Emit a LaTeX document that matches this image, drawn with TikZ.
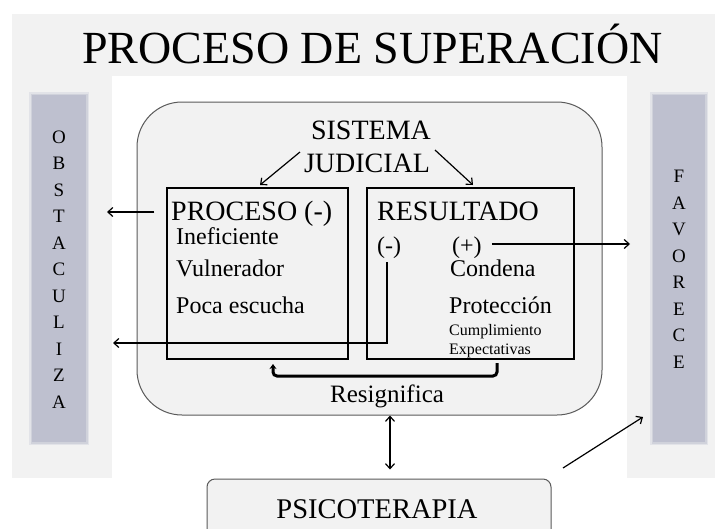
\documentclass[tikz,border=0pt]{standalone}
\usepackage{fontspec}
\setmainfont{Liberation Serif}
\usetikzlibrary{arrows.meta,calc}
\definecolor{bggray}{RGB}{242,242,242}
\definecolor{barc}{RGB}{190,192,207}
\definecolor{mainborder}{RGB}{90,90,90}
\tikzset{
  arr/.style={line width=1.2pt,-{Straight Barb[length=5pt,width=9pt]}},
  arrtwo/.style={line width=1.2pt,{Straight Barb[length=5pt,width=9pt]}-{Straight Barb[length=5pt,width=9pt]}},
  innerbox/.style={draw=black,line width=1.2pt,fill=bggray,inner sep=0pt},
  txt/.style={inner sep=0pt,anchor=base west},
  bartxt/.style={inner sep=0pt,align=center,font=\fontsize{19}{26.5}\selectfont},
}
\begin{document}
\begin{tikzpicture}[x=1pt,y=-1pt]
\clip (0,0) rectangle (715,528);
\useasboundingbox (0,0) rectangle (715,528);
% background frame
\fill[white] (0,0) rectangle (715,528);
\fill[bggray] (12,14) rectangle (715,478);
\fill[white] (112,76) rectangle (627,528);
% title
\node[inner sep=0pt,anchor=base,font=\fontsize{46}{50}\selectfont] (title) at (372.5,63) {PROCESO DE SUPERACIÓN};
% side bars
\foreach \xa/\xb [count=\i] in {32/86,653/705}{
  \fill[barc!30!bggray] (\xa-3,92) rectangle (\xb+3,445);
  \fill[barc!65!bggray] (\xa-1.5,93.5) rectangle (\xb+1.5,443.5);
  \fill[barc] (\xa,95) rectangle (\xb,442);
}
\node[bartxt] (obst) at (59,269.5) {O\\B\\S\\T\\A\\C\\U\\L\\I\\Z\\A};
\node[bartxt] (fav) at (679,269.5) {F\\A\\V\\O\\R\\E\\C\\E};
% main rounded box
\node[draw=mainborder,line width=1pt,fill=bggray,rounded corners=45pt,minimum width=465pt,minimum height=313pt,inner sep=0pt] (main) at (369.5,258.5) {};
% sistema judicial
\node[inner sep=0pt,anchor=base,font=\fontsize{28}{33}\selectfont] (sist) at (371,139) {SISTEMA};
\node[inner sep=0pt,anchor=base,font=\fontsize{28}{33}\selectfont] (jud) at (367,172) {JUDICIAL};
% inner boxes
\node[innerbox,minimum width=181pt,minimum height=171pt] (proc) at (257.5,273.5) {};
\node[innerbox,minimum width=207pt,minimum height=171pt] (res) at (470.5,273.5) {};
% texts in PROCESO
\node[txt,font=\fontsize{28}{30}\selectfont] (proct) at (171,220) {PROCESO (-)};
\node[txt,font=\fontsize{24}{26}\selectfont] (inef) at (176,244) {Ineficiente};
\node[txt,font=\fontsize{24}{26}\selectfont] (vuln) at (176,276) {Vulnerador};
\node[txt,font=\fontsize{24}{26}\selectfont] (poca) at (176,313) {Poca escucha};
% texts in RESULTADO
\node[txt,font=\fontsize{28}{30}\selectfont] (rest) at (377,220) {RESULTADO};
\node[txt,font=\fontsize{24}{26}\selectfont] (rneg) at (377,253) {(-)};
\node[txt,font=\fontsize{24}{26}\selectfont] (rpos) at (452,253) {(+)};
\node[txt,font=\fontsize{24}{26}\selectfont] (cond) at (450,276) {Condena};
\node[txt,font=\fontsize{24}{26}\selectfont] (prot) at (449,313) {Protección};
\node[txt,font=\fontsize{16}{18}\selectfont] (cump) at (449,335) {Cumplimiento};
\node[txt,font=\fontsize{16}{18}\selectfont] (expe) at (449,354) {Expectativas};
% resignifica
\node[inner sep=0pt,anchor=base,font=\fontsize{25}{27}\selectfont] (resig) at (387,402) {Resignifica};
% psicoterapia
\node[draw=mainborder,line width=1pt,fill=bggray,rounded corners=8pt,minimum width=344pt,minimum height=100pt,inner sep=0pt] (psi) at (379,529) {};
\node[inner sep=0pt,anchor=base,font=\fontsize{28.5}{30}\selectfont] (psit) at (377,518) {PSICOTERAPIA};
% coordinates
\coordinate (sjl) at (300,152);
\coordinate (sjr) at (435,150);
\coordinate (pa) at (260,185);
\coordinate (ra) at (473,185);
\coordinate (obA) at (107,212);
\coordinate (obB) at (113,343);
\coordinate (negx) at (387,262);
\coordinate (favA) at (630,244);
\coordinate (dblx) at (390,0);
\coordinate (diagA) at (563,468);
\coordinate (diagB) at (643,417);
\coordinate (brR) at (497,363);
\coordinate (brL) at (273,364);
\coordinate (brY) at (0,376);
% connectors
\draw[arr] (sjl) -- (pa);
\draw[arr] (sjr) -- (ra);
\draw[arr] ($(proc.west|-obA)+(-12,0)$) -- (obA);
\draw[arr] (negx) -- (negx|-obB) -- (obB);
\draw[arr] ($(rpos.east|-favA)+(10,0)$) -- (favA);
\draw[arrtwo] (main.south -| dblx) -- ($(psi.north -| dblx)+(0,-9)$);
\draw[arr] (diagA) -- (diagB);
\draw[line width=3pt,rounded corners=4pt,-{Stealth[length=5pt,width=7pt]}] (brR) -- (brR|-brY) -- (brL|-brY) -- (brL);
\end{tikzpicture}
\end{document}
